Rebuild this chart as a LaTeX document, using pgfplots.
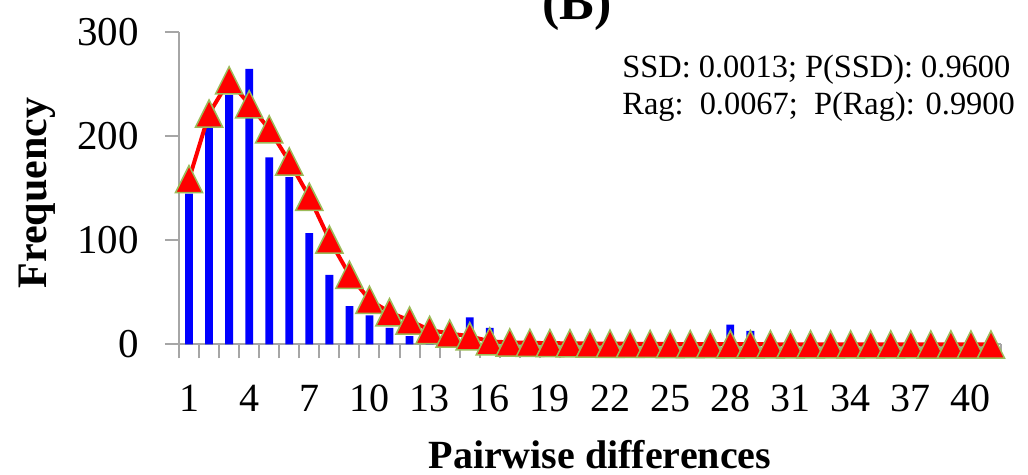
\documentclass[border=0pt]{standalone}
\usepackage{pgfplots}
\usepackage{pgfplotstable}
\pgfplotsset{compat=1.18}
\usepackage{fontspec}
\setmainfont{Liberation Serif}

\definecolor{barblue}{HTML}{0000FF}
\definecolor{markred}{HTML}{FF0000}
\definecolor{markedge}{HTML}{9BBB59}
\definecolor{axisgray}{HTML}{A6A6A6}

% triangle whose bounding box is centred on the data point
\pgfdeclareplotmark{xltriangle}{%
  \pgfpathmoveto{\pgfqpoint{0pt}{\pgfplotmarksize}}%
  \pgfpathlineto{\pgfqpoint{\pgfplotmarksize}{-\pgfplotmarksize}}%
  \pgfpathlineto{\pgfqpoint{-\pgfplotmarksize}{-\pgfplotmarksize}}%
  \pgfpathclose
  \pgfusepathqfillstroke}

% observed and expected mismatch distribution
\pgfplotstableread{
k  obs  exp
1  145  159
2  209  222
3  240  254
4  265  231
5  180  207
6  161  176
7  107  142
8   67  101
9   37   67
10  28   43
11  16   31
12   8   23
13   4   14
14   2   10.5
15  26    8
16  16    3
17   1    2
18   0    1.6
19   0    1.3
20   0    1.1
21   0    1
22   0    0.8
23   0    0.7
24   0    0.6
25   0    0.5
26   0    0.4
27   0    0.4
28  19    0.3
29  13    0.3
30   0    0.2
31   0    0.2
32   0    0.2
33   0    0.1
34   0    0.1
35   0    0.1
36   0    0.1
37   0    0.1
38   0    0
39   0    0
40   0    0
41   0    0
}\mismatch

\begin{document}
\begin{tikzpicture}
\begin{axis}[
  scale only axis,
  width=411pt, height=156pt,
  xmin=0.5, xmax=41.5, ymin=0, ymax=300,
  axis x line*=bottom, axis y line*=left,
  axis line style={axisgray, line width=1pt},
  clip=false,
  ytick={0,100,200,300},
  xtick={0.5,1.5,...,41.5},
  xticklabels={},
  extra x ticks={1,4,...,40},
  extra x tick labels={1,4,7,10,13,16,19,22,25,28,31,34,37,40},
  extra x tick style={major tick length=0pt,
    tick label style={anchor=north, inner sep=0pt, yshift=-20pt}},
  tick align=outside,
  major tick length=7pt,
  tick style={axisgray, line width=1pt},
  tick label style={font=\fontsize{20}{20}\selectfont},
  yticklabel style={anchor=east, inner sep=0pt, xshift=-13pt,
    font=\fontsize{20.5}{20.5}\selectfont},
  /pgf/number format/assume math mode=true,
  xlabel={Pairwise differences},
  xlabel style={at={(axis description cs:0.512,-0.396)}, anchor=base,
    font=\fontsize{20}{20}\selectfont\bfseries},
  ylabel={Frequency},
  ylabel style={at={(axis description cs:-0.1727,0.485)}, anchor=center,
    font=\fontsize{21}{21}\selectfont\bfseries},
]
\addplot[ybar, bar width=3.9pt, fill=barblue, draw=none]
  table[x=k, y=obs]{\mismatch};
\addplot[markred, line width=2pt, mark=xltriangle, mark size=6.8pt,
  mark options={fill=markred, draw=markedge, line width=0.75pt}]
  table[x=k, y=exp]{\mismatch};
\end{axis}
\node[anchor=base, font=\fontsize{26}{26}\selectfont\bfseries] at (199pt,162.25pt) {(B)};
\node[anchor=base west, inner sep=0pt, font=\fontsize{16.2}{16.2}\selectfont] at (221.5pt,133.25pt)
  {SSD: 0.0013; P(SSD): 0.9600};
\node[anchor=base west, inner sep=0pt, font=\fontsize{16.2}{16.2}\selectfont] at (221.5pt,114.75pt)
  {Rag:\ \ 0.0067;\ \ P(Rag): 0.9900};
\pgfresetboundingbox
\useasboundingbox (-89.5pt,-65.25pt) rectangle (424.5pt,172.25pt);
\end{tikzpicture}
\end{document}
